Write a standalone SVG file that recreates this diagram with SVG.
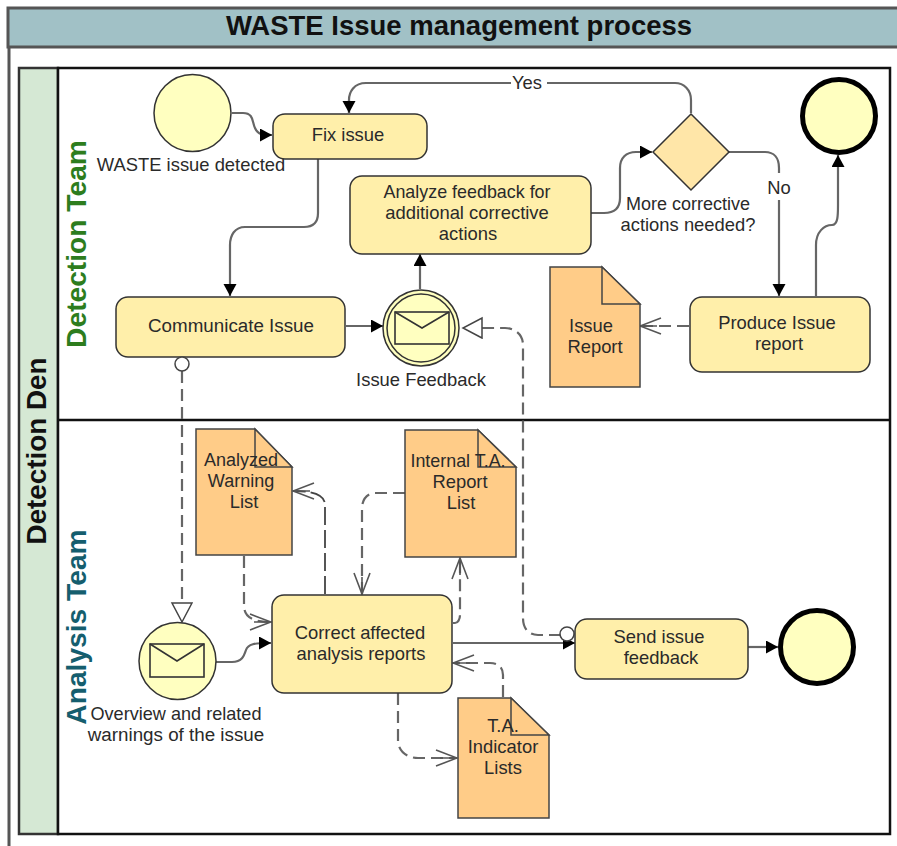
<svg xmlns="http://www.w3.org/2000/svg" width="897" height="846" viewBox="0 0 897 846">
<style>
text{font-family:"Liberation Sans",Arial,sans-serif;font-size:18.4px;fill:#2a2a2a;text-anchor:middle}
.task{fill:#ffefaa;stroke:#333;stroke-width:1.5}
.doc{fill:#ffcc88;stroke:#444;stroke-width:1.5}
.ev{fill:#ffffc0;stroke:#333;stroke-width:1.5}
.end{fill:#ffffc0;stroke:#000;stroke-width:5}
.env{fill:none;stroke:#333;stroke-width:1.6}
.flow{fill:none;stroke:#666;stroke-width:2.2}
.flow2{fill:none;stroke:#666;stroke-width:2.2;stroke-dasharray:12 6}
.sw{font-weight:bold}
</style>
<defs>
<marker id="solid" markerUnits="userSpaceOnUse" markerWidth="14" markerHeight="14" refX="12" refY="6.5" orient="auto"><path d="M0 0L12 6.5L0 13Z" fill="#000"/></marker>
<marker id="open" markerUnits="userSpaceOnUse" markerWidth="24" markerHeight="20" refX="22" refY="9" orient="auto"><path d="M1 1L22 9L1 17M5 9H22" fill="none" stroke="#555" stroke-width="1.6"/></marker>
<marker id="hollow" markerUnits="userSpaceOnUse" markerWidth="22" markerHeight="24" refX="20" refY="11" orient="auto"><path d="M1 1L20 11L1 21Z" fill="#fff" stroke="#444" stroke-width="1.5"/></marker>
</defs>

<g id="frame">
<path d="M9 8V846" fill="none" stroke="#555" stroke-width="3"/>
<rect x="8" y="8" width="892" height="39" fill="#a1c1c6" stroke="#555" stroke-width="3"/>
<text x="459" y="35" style="font-weight:bold;font-size:27.5px;fill:#111">WASTE Issue management process</text>
</g>

<g id="pool">
<rect x="19" y="68" width="39" height="766" fill="#d5e8d4" stroke="#333" stroke-width="2.5"/>
<rect x="58" y="68" width="832" height="766" fill="#fff" stroke="#111" stroke-width="2.5"/>
<path d="M58 420H890" stroke="#111" stroke-width="2.5"/>
<text class="sw" transform="translate(46 451) rotate(-90)" style="fill:#111;font-size:27.8px">Detection Den</text>
<text class="sw" transform="translate(86 244) rotate(-90)" style="fill:#2d7d1e;font-size:28.2px">Detection Team</text>
<text class="sw" transform="translate(86 627) rotate(-90)" style="fill:#155e6e;font-size:28.2px">Analysis Team</text>
</g>

<g id="connectors">
<path class="flow" marker-end="url(#solid)" d="M232 113H243C254 113 252 122 255 128C258 135 263 135 272 135"/>
<path class="flow" marker-end="url(#solid)" d="M318 159V213C318 224 312 227 304 227H245C235 227 230 235 230 245V296"/>
<path class="flow" marker-end="url(#solid)" d="M346 326H383"/>
<path class="flow" marker-end="url(#solid)" d="M420 289V254"/>
<path class="flow" marker-end="url(#solid)" d="M591 213H604C615 213 620 208 620 198V168C620 158 626 152 636 152H652"/>
<path class="flow" d="M691 113V100C691 90 684 83 675 83H547M511 83H366C354 83 349 92 349 100V113" />
<path class="flow" marker-end="url(#solid)" d="M349 100V113"/>
<path class="flow" d="M729 152H765C774 152 779 158 779 168V173"/>
<path class="flow" marker-end="url(#solid)" d="M779 200V296"/>
<path class="flow" marker-end="url(#solid)" d="M816 296V245C816 232 824 225 832 225C838 225 838 215 838 205V155"/>
<path class="flow2" marker-end="url(#open)" d="M689 326H640"/>
<path class="flow2" marker-end="url(#hollow)" d="M561 635H538C528 635 523 628 523 618V345C523 334 514 328 505 328H463"/>
<path class="flow2" marker-end="url(#hollow)" d="M182 371V622"/>
<path class="flow" marker-end="url(#solid)" d="M216 662H232C242 662 244 656 246 650C248 644 254 643 271 643"/>
<path class="flow" marker-end="url(#solid)" d="M453 643H575"/>
<path class="flow" marker-end="url(#solid)" d="M748 647H778"/>
<path class="flow2" marker-end="url(#open)" d="M244 556V605C244 614 248 622 271 622"/>
<path class="flow2" style="stroke-dasharray:18 5;stroke:#444;stroke-width:1.8" marker-end="url(#open)" d="M325 594V505C325 496 316 491 293 491"/>
<path class="flow2" marker-end="url(#open)" d="M405 493H375C367 493 362 500 362 508V594"/>
<path class="flow2" marker-end="url(#open)" d="M453 623H455C458 623 460 619 460 615V558"/>
<path class="flow2" marker-end="url(#open)" d="M503 697V675C503 667 498 663 490 663H453"/>
<path class="flow2" marker-end="url(#open)" d="M398 693V740C398 752 408 758 418 758H457"/>
</g>

<g id="start"><circle class="ev" cx="192.500" cy="113" r="38.500"/><text x="191" y="171">WASTE issue detected</text></g>
<g id="fix"><rect class="task" x="273" y="114" width="154" height="45" rx="12"/><text x="348" y="141">Fix issue</text></g>
<g id="analyze"><rect class="task" x="350" y="176" width="241" height="78" rx="12"/><text x="467" y="198" style="font-size:17.9px">Analyze feedback for</text><text x="467" y="219">additional corrective</text><text x="468" y="240">actions</text></g>
<g id="gateway"><path d="M691 114L729 152L691 190L653 152Z" fill="#ffe6a8" stroke="#333" stroke-width="1.5"/><text x="688" y="210" style="font-size:18px">More corrective</text><text x="688" y="231">actions needed?</text></g>
<g id="end1"><circle class="end" cx="839" cy="116" r="36.500"/></g>
<g id="communicate"><rect class="task" x="116" y="297" width="229" height="60" rx="12"/><text x="231" y="332" style="font-size:18.8px">Communicate Issue</text></g>
<g id="feedback"><circle class="ev" cx="421" cy="328" r="38"/><circle class="ev" cx="421" cy="328" r="34"/><rect class="env" x="395" y="312" width="54" height="32"/><path class="env" d="M395 312L422 328L449 312"/><text x="421" y="386">Issue Feedback</text></g>
<g id="issuereport"><path class="doc" d="M550 267H602L640 304V387H550Z"/><path class="doc" d="M602 267L640 304H602Z"/><text x="591" y="332">Issue</text><text x="595" y="353">Report</text></g>
<g id="produce"><rect class="task" x="690" y="297" width="180" height="75" rx="12"/><text x="777" y="329">Produce Issue</text><text x="779" y="350">report</text></g>
<g id="warnlist"><path class="doc" d="M196 429H255L292 467V555H196Z"/><path class="doc" d="M255 429L292 467H255Z"/><text x="241" y="466" style="font-size:18px">Analyzed</text><text x="241" y="487" style="font-size:18px">Warning</text><text x="244" y="508">List</text></g>
<g id="talist"><path class="doc" d="M405 430H478L516 467V557H405Z"/><path class="doc" d="M478 430L516 467H478Z"/><text x="458" y="467" style="font-size:17.9px">Internal T.A.</text><text x="460" y="488">Report</text><text x="461" y="509">List</text></g>
<g id="overview"><circle class="ev" cx="177.500" cy="661" r="38.500"/><rect class="env" x="150" y="644" width="54" height="33"/><path class="env" d="M150 644L177 661L204 644"/><text x="176" y="720" style="font-size:18.1px">Overview and related</text><text x="176" y="741" style="font-size:18.8px">warnings of the issue</text></g>
<g id="correct"><rect class="task" x="272" y="595" width="180" height="98" rx="12"/><text x="360" y="639">Correct affected</text><text x="361" y="660">analysis reports</text></g>
<g id="indicator"><path class="doc" d="M458 698H511L549 735V818H458Z"/><path class="doc" d="M511 698L549 735H511Z"/><text x="503" y="732">T.A.</text><text x="503" y="753">Indicator</text><text x="503" y="774">Lists</text></g>
<g id="send"><circle cx="567" cy="634" r="7" fill="#fff" stroke="#444" stroke-width="1.5"/><rect class="task" x="575" y="619" width="173" height="60" rx="12"/><text x="659" y="643">Send issue</text><text x="661" y="664">feedback</text></g>
<g id="end2"><circle class="end" cx="817" cy="647" r="36.500"/></g>
<g id="marks"><circle cx="182" cy="364" r="7" fill="#fff" stroke="#444" stroke-width="1.500"/><text x="527" y="89">Yes</text><text x="779" y="194">No</text></g>
</svg>
